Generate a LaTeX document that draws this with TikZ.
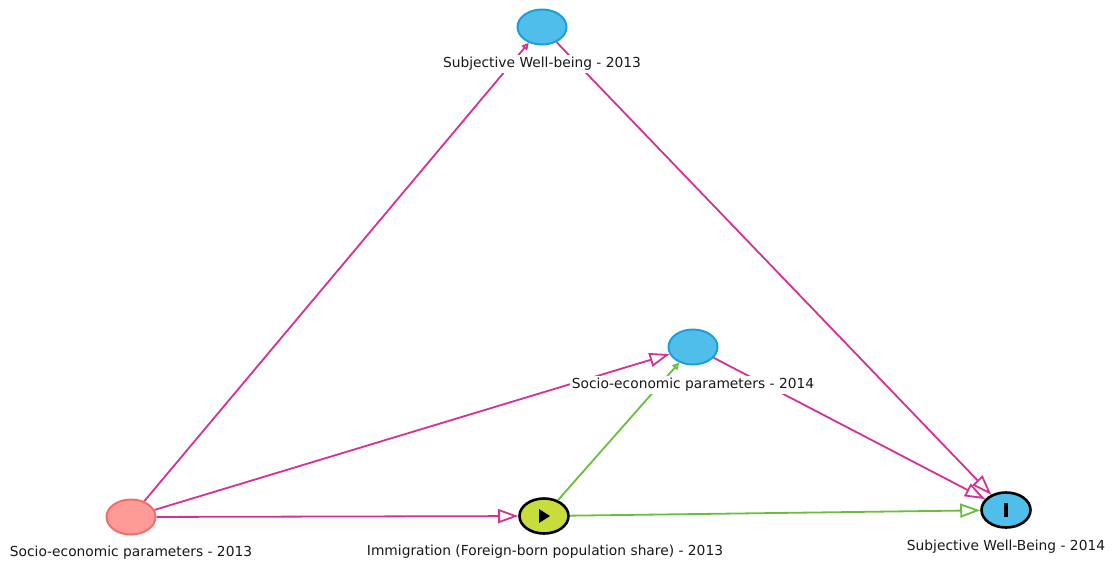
\documentclass[tikz,border=0pt]{standalone}
\usepackage{fontspec}
\setmainfont{DejaVu Sans}
\usetikzlibrary{shapes.geometric,arrows.meta}
\definecolor{edgepink}{RGB}{214,48,150}
\definecolor{edgegreen}{RGB}{105,190,60}
\definecolor{nodeblue}{RGB}{80,190,235}
\definecolor{blueborder}{RGB}{25,160,220}
\definecolor{nodepink}{RGB}{255,155,150}
\definecolor{pinkborder}{RGB}{240,110,110}
\definecolor{nodeyellow}{RGB}{200,220,60}
\definecolor{labeltext}{RGB}{25,25,25}
\begin{document}
\begin{tikzpicture}[x=1pt,y=-1pt,
  vnode/.style={ellipse,minimum width=49pt,minimum height=35pt,inner sep=0pt,line width=2pt},
  latent/.style={vnode,draw=blueborder,fill=nodeblue},
  adjusted/.style={vnode,draw=pinkborder,fill=nodepink},
  exposure/.style={vnode,draw=black,fill=nodeyellow,line width=2.6pt},
  outcome/.style={vnode,draw=black,fill=nodeblue,line width=2.6pt},
  lbl/.style={fill=white,inner sep=2pt,text=labeltext,font=\fontsize{13.8}{16}\selectfont},
  pinkedge/.style={draw=edgepink,line width=1.8pt},
  greenedge/.style={draw=edgegreen,line width=1.8pt},
  bighead/.style={-{Triangle[open,length=20pt,width=14pt,line width=1.8pt]}},
  smallhead/.style={-{Triangle[open,length=7pt,width=7pt,line width=1.8pt]}}
]
\useasboundingbox (0,0) rectangle (1115,566);
% variable nodes
\node[latent]   (swb13) at (542,27)  {};
\node[latent]   (se14)  at (693,347) {};
\node[adjusted] (se13)  at (131,517) {};
\node[exposure] (imm)   at (544,516) {};
\node[outcome]  (swb14) at (1006,510) {};
% icons
\fill[black] (539,509) -- (550,516) -- (539,523) -- cycle;
\fill[black] (1004,503) rectangle (1008,517);
% connectors
\draw[pinkedge,smallhead] (se13) -- (swb13);
\draw[pinkedge,bighead] (swb13) -- (swb14);
\draw[pinkedge,bighead] (se13) -- (se14);
\draw[pinkedge,bighead] (se13) -- (imm);
\draw[pinkedge,bighead] (se14) -- (swb14);
\draw[greenedge,smallhead] (imm) -- (se14);
\draw[greenedge,bighead] (imm) -- (swb14);
% labels
\node[lbl] (lswb13) at (542,64)  {Subjective Well-being - 2013};
\node[lbl] (lse14)  at (693,385) {Socio-economic parameters - 2014};
\node[lbl] (lse13)  at (131,553) {Socio-economic parameters - 2013};
\node[lbl] (limm)   at (545,552) {Immigration (Foreign-born population share) - 2013};
\node[lbl] (lswb14) at (1006,547) {Subjective Well-Being - 2014};
\end{tikzpicture}
\end{document}
